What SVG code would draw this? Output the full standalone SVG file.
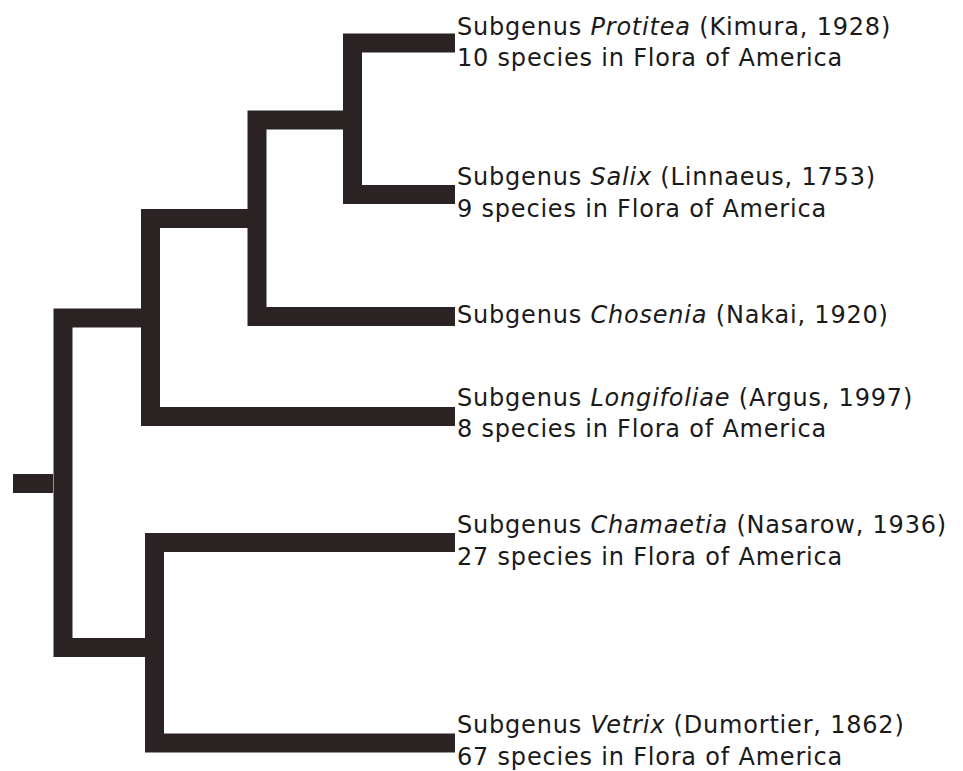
<svg xmlns="http://www.w3.org/2000/svg" width="963" height="771" viewBox="0 0 963 771">
<style>
.br{fill:none;stroke:#2b2224;stroke-width:19;stroke-linecap:butt;stroke-linejoin:miter}
.lb{font-family:"DejaVu Sans","Liberation Sans",sans-serif;font-size:24px;letter-spacing:0.8px;fill:#1a1a1a}
.it{font-style:italic}
</style>
<rect width="963" height="771" fill="#fff"/>
<g id="connectors">
<path class="br" d="M455,43 H352.5 V194.5 H455"/>
<path class="br" d="M343,120 H257 V316.5 H455"/>
<path class="br" d="M248,218.5 H150.5 V416.5 H455"/>
<path class="br" d="M141,318 H63 V647.5 H145"/>
<path class="br" d="M455,542.5 H154.5 V743 H455"/>
<path class="br" d="M13,483.5 H53"/>
</g>
<g id="protitea"><text class="lb" x="457" y="35">Subgenus <tspan class="it">Protitea</tspan> (Kimura, 1928)</text><text class="lb" x="457" y="66">10 species in Flora of America</text></g>
<g id="salix"><text class="lb" x="457" y="185">Subgenus <tspan class="it">Salix</tspan> (Linnaeus, 1753)</text><text class="lb" x="457" y="217">9 species in Flora of America</text></g>
<g id="chosenia"><text class="lb" x="457" y="323">Subgenus <tspan class="it">Chosenia</tspan> (Nakai, 1920)</text></g>
<g id="longifoliae"><text class="lb" x="457" y="406">Subgenus <tspan class="it">Longifoliae</tspan> (Argus, 1997)</text><text class="lb" x="457" y="437">8 species in Flora of America</text></g>
<g id="chamaetia"><text class="lb" x="457" y="533">Subgenus <tspan class="it">Chamaetia</tspan> (Nasarow, 1936)</text><text class="lb" x="457" y="565">27 species in Flora of America</text></g>
<g id="vetrix"><text class="lb" x="457" y="733">Subgenus <tspan class="it">Vetrix</tspan> (Dumortier, 1862)</text><text class="lb" x="457" y="765">67 species in Flora of America</text></g>
</svg>
